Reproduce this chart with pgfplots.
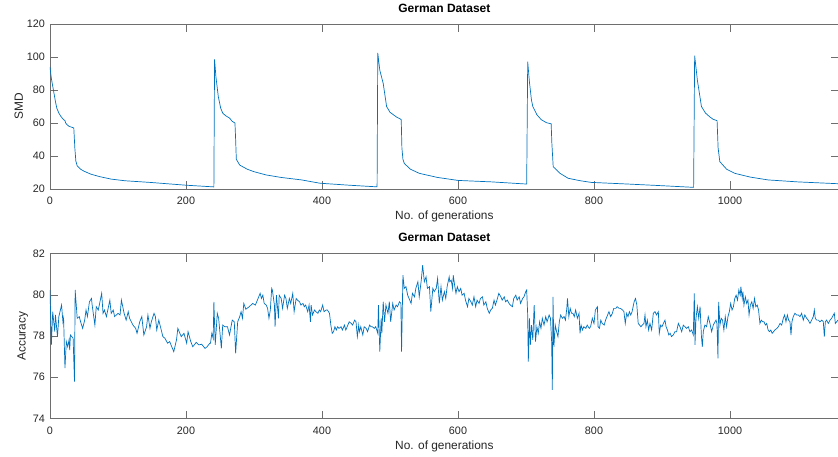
\documentclass[border=0pt]{standalone}
\usepackage{fontspec}
\setmainfont{Liberation Sans}
\usepackage{pgfplots}
\pgfplotsset{compat=1.18}
\definecolor{mblue}{RGB}{0,114,189}
\definecolor{axgray}{RGB}{110,110,110}
\definecolor{txtgray}{RGB}{38,38,38}
\pgfplotsset{
  mstyle/.style={
    scale only axis, width=788.8pt, height=165pt, anchor=south west,
    xmin=0, xmax=1160, xtick={0,200,...,1000},
    scaled ticks=false,
    /pgf/number format/1000 sep={},
    /pgf/number format/assume math mode=true,
    tick align=inside, major tick length=8pt,
    xtick pos=both, ytick pos=both,
    axis line style={axgray, line width=0.5pt},
    every tick/.style={axgray, line width=0.5pt},
    tick label style={font=\fontsize{10.8}{12}\selectfont, text=txtgray, inner sep=0pt},
    xticklabel style={yshift=-8pt},
    yticklabel style={xshift=-5pt},
    label style={font=\fontsize{11.9}{13}\selectfont, text=txtgray, inner sep=0pt},
    xlabel style={at={(axis description cs:0.5,0)}, anchor=north, yshift=-22pt},
    title style={at={(axis description cs:0.5,1)}, anchor=south, yshift=5.5pt,
      font=\bfseries\fontsize{12}{13}\selectfont, inner sep=0pt},
    xlabel={No. of generations},
    title={German Dataset},
  }
}
\begin{document}
\begin{tikzpicture}
\begin{axis}[mstyle, at={(50pt,267pt)},
  ymin=20, ymax=120, ytick={20,40,...,120},
  ylabel={SMD}, ylabel style={at={(axis description cs:-0.0339,0.5)}, anchor=south}]
\addplot[mblue, line width=0.7pt] coordinates {
(0,94) (2,87) (5,80) (8,73) (10,69) (13,66) (16,64) (20,62) (22,61.5) (23,60) (25,59) (28,58) (33,57.3) (35,57) (36.5,45) (38,37) (40,34) (45,32) (50,30.8) (60,29) (73,27.5) (90,26) (110,25) (147,24) (200,22.3) (240,21.3) (241,21.2)
(242,98.5) (244,88) (247.5,76) (251,69) (254,66) (258,64.5) (264,63) (268,61) (272,60) (273,50) (274,38) (279,34.5) (290,32) (300,30.5) (318,28.5) (340,27) (370,25.5) (397,23.5) (440,22.3) (481,21.3)
(482,102.5) (485,92) (490,84) (495,70) (500,66.5) (505,65) (510,63.5) (515,62.5) (516.5,62) (517.5,45) (519,38) (521,35.5) (530,32) (543,29.5) (570,27) (600,25.2) (650,24.3) (701,23)
(702.5,97.2) (705,85) (708,74) (710,70) (716,65) (722.5,62) (730,60.2) (737,59.5) (738,48) (740,33.5) (750,29.5) (762,26.5) (780,25) (796,24) (850,23) (900,22) (946.5,21)
(948,100.8) (952,86) (958,70) (964,66) (970,63.8) (975,62.3) (981,61.4) (982.5,45) (985,36.6) (995,32) (1007,29.5) (1030,27.2) (1056,25.5) (1100,24.3) (1159,23.2)
};
\end{axis}
\begin{axis}[mstyle, at={(50pt,37.5pt)},
  ymin=74, ymax=82, ytick={74,76,...,82},
  ylabel={Accuracy}, ylabel style={at={(axis description cs:-0.0276,0.5)}, anchor=south}]
\addplot[mblue, line width=0.7pt] coordinates {
(0,80.23) (2,77.57) (4,79.18) (7,78.21) (8,79.02) (11,77.97) (13,78.94) (17,79.50) (19,78.69) (20,78.86) (22,76.44) (24,77.73) (26,77.48) (28,77.81) (29,77.32) (30,78.05) (34,77.89) (36,75.79) (37,80.23) (40,78.86) (43,78.94) (45,78.69) (48,78.37) (51,78.77) (53,79.26) (55,78.94) (58,79.66) (61,79.82) (62,79.50) (66,78.53) (68,79.42) (71,79.26) (76,80.07) (78,79.10) (80,79.26) (83,78.94) (88,79.74) (90,79.10) (93,79.26) (95,78.94) (100,79.10) (103,79.02) (105,79.74) (109,79.10) (112,78.77) (115,79.18) (117,78.86) (122,78.53) (126,78.37) (128,78.13) (132,78.69) (135,78.94) (138,78.05) (142,78.45) (144,79.02) (147,78.37) (149,78.69) (153,79.10) (155,78.94) (157,78.29) (160,78.77) (163,78.37) (166,77.97) (169,77.89) (173,77.65) (176,77.73) (182,77.24) (186,77.81) (188,78.37) (191,78.13) (193,77.97) (197,78.13) (201,77.65) (203,78.21) (207,77.73) (210,77.48) (215,77.69) (219,77.57) (223,77.60) (228,77.40) (231,77.48) (235,77.65) (236,77.65) (238,78.13) (240,77.89) (241,79.66) (243,77.57) (246,79.10) (248,78.86) (252,77.40) (254,78.53) (257,78.45) (261,78.45) (264,78.05) (268,78.77) (271,78.69) (273,77.16) (276,78.69) (279,78.94) (281,79.18) (283,78.86) (285,79.58) (288,79.30)
(293,79.42) (298,79.58) (302,79.50) (305,79.74) (309,80.07) (311,79.82) (313,79.98) (315,79.58) (318,79.50) (320,79.34) (322,78.86) (324,79.26) (326,80.31) (327,80.23) (330,79.50) (331,78.45) (333,79.98) (336,78.86) (337,79.98) (340,79.82) (342,79.34) (345,79.98) (347,79.82) (349,79.34) (352,79.82) (354,79.58) (357,80.07) (359,79.18) (362,79.82) (364,79.74) (367,79.66) (369,79.50) (372,79.58) (374,79.42) (376,79.50) (379,79.18) (381,79.50) (383,78.69) (384,79.50) (386,79.02) (389,79.26) (391,79.18) (394,79.10) (396,79.26) (398,79.18) (401,79.50) (403,79.18) (406,79.26) (408,79.26) (411,79.10) (413,78.53) (415,78.13) (417,78.21) (419,78.45) (421,78.29) (423,78.45) (425,78.37) (428,78.45) (430,78.29) (433,78.53) (435,78.29) (438,78.53) (440,78.69) (443,78.61) (445,78.53) (448,78.77) (450,78.69) (452,77.97) (454,78.53) (455,78.21) (457,78.45) (460,78.05) (462,78.45) (465,78.37) (467,78.21) (470,78.53) (472,78.45) (474,78.45) (477,78.37) (479,78.45) (482,78.13) (483,79.50) (485,77.24) (487,78.86) (488,78.13) (490,79.66) (492,78.69) (494,79.50) (497,79.10) (499,79.66) (501,78.69) (504,79.58) (506,79.26) (509,79.50) (511,79.42) (514,79.66) (516,79.58) (517,77.24) (519,80.95) (521,80.31) (523.5,80.39) (526,79.98) (528,79.82) (531,79.58) (533,80.07) (536,79.90) (538,80.31) (541,80.63) (543,79.90) (546,80.71) (548,81.44) (550.5,80.63) (553,80.87) (555,80.31) (558,80.39) (560,79.18) (563,80.31) (565,80.15) (568,80.31) (570,80.79) (572.5,79.58) (575,80.39) (577,79.74) (580,80.15) (582,79.82)
(584,80.39) (587,80.87) (588,80.63) (590,80.71) (592,80.31) (593,80.95) (595,80.47) (597,80.07) (599,80.39) (601.5,80.15) (604,80.31) (606,79.98) (609,80.07) (611,79.74) (614,79.42) (616,79.82) (619,79.66) (621,79.50) (623.5,79.90) (626,79.42) (628,79.74) (631,79.58) (633,79.82) (636,79.90) (638,79.50) (641,79.66) (643,79.34) (646,79.10) (648,79.26) (650.5,79.34) (653,79.74) (655,79.50) (658,79.82) (660,80.07) (663,79.90) (665,79.74) (668,79.90) (670,79.66) (672.5,79.74) (675,79.58) (677,79.50) (680,79.42) (682,79.82) (685,79.98) (687,79.74) (690,79.90) (692,79.58) (695,79.82) (697,79.90) (699.5,80.15) (701,80.23) (702.4,79.10) (703.4,76.76) (705,78.86) (706.4,77.57) (708,78.53) (710,77.81) (712,79.50) (714,77.73) (716,78.45) (718,78.13) (720,78.69) (722,78.37) (724,78.86) (726.5,78.53) (729,78.94) (731,78.69) (734,79.02) (736,78.86) (737.7,77.73) (738.7,75.39) (739.7,79.90) (741,77.48) (743,78.53) (745,78.21) (747,77.97) (749,78.69) (751,79.02) (753.4,78.86) (756,78.94) (758,78.77) (760,79.34) (761,79.82) (763,78.94) (765,79.34) (767,79.10) (769,79.10) (771,78.94) (773,79.26) (775.5,78.86) (778,79.10) (779.4,78.13) (781,78.53) (783,78.29) (785,78.45) (788,78.37) (790,78.53) (793,78.37) (795,78.45) (797.5,78.86) (800,78.61) (802,79.26) (805,79.42) (806,78.45) (808,78.37) (810,78.77) (812,78.61) (815,78.53) (817,78.77) (820,79.02) (822,79.18) (824.5,78.94) (827,79.10) (829,79.34) (832,79.34) (834,79.42) (837,79.34) (839,79.34) (842,79.26) (844,79.18) (846,78.61) (848,79.10) (850,78.94) (852,79.18) (854,79.02) (856,79.18) (859,79.66) (861,79.82) (863,79.50) (865,78.61) (867,78.53) (869,78.45) (871,78.53) (873.5,78.61)
(875,79.02) (876.4,78.45) (878.4,78.77) (880.3,78.29) (882.3,78.61) (884.8,78.29) (887.2,79.10) (889.7,79.18) (892,79.02) (894.6,79.18) (896,78.13) (898,78.53) (900,78.45) (902,78.61) (904.4,78.77) (906,78.45) (908,78.29) (910,78.05) (912,78.13) (914,77.97) (916.6,78.05) (919,78.21) (921.5,78.21) (924,78.61) (926.4,78.45) (929,78.21) (931.3,78.53) (933.8,78.45) (936,78.37) (938.7,78.45) (941,78.21) (943.6,78.29) (946,78.05) (947.5,80.07) (948.5,77.57) (950,78.86) (952,79.42) (954,78.86) (956,79.42) (958,77.97) (959.3,77.48) (960.7,78.21) (963,78.53) (965.6,78.45) (968,78.94) (970.5,78.61) (973,78.21) (975.4,78.53) (978,78.69) (979.4,78.77) (980.8,78.61) (982.3,76.92) (983.3,79.66) (985.2,78.53) (987,78.86) (989,78.77) (991,78.29) (993,78.94) (995,78.45) (997,78.94) (999,79.18) (1001,79.58) (1003,79.26) (1005,79.42) (1007,79.82) (1009,79.98) (1011,79.74) (1013,80.23) (1015,79.98) (1016,80.39) (1018,79.82) (1019,80.15) (1020.5,79.50) (1022.5,79.90) (1024.5,79.58) (1026.4,79.74) (1028,79.02) (1030,79.50) (1032,79.66) (1034,79.34) (1036,79.82) (1038,79.42) (1040,79.50) (1042,79.26) (1044,78.61) (1046,78.77) (1048,78.69) (1050,78.69) (1052,78.53) (1054,78.61) (1056,78.29) (1058,78.21) (1060,78.29) (1062,78.13) (1064,78.21) (1066,78.29) (1069,78.37) (1071,78.45) (1073.5,78.61) (1076,78.53) (1078.4,78.86) (1080.3,79.02) (1082.3,78.69) (1084.3,79.02) (1086.2,78.77) (1088.2,78.69) (1089.7,78.05) (1091.1,78.69) (1093,78.94) (1095.5,79.10) (1098,79.02) (1100.4,79.02) (1103,78.94) (1105.3,79.10) (1107.8,78.77) (1110,79.02) (1112.7,78.86) (1115,78.77) (1117.6,78.61) (1120,78.77) (1122.5,78.94) (1124,79.26) (1125.4,78.86) (1127.4,78.77) (1130,78.77) (1132.3,78.69) (1134.8,78.77) (1137.2,78.69) (1138.7,77.97) (1140.2,78.69) (1142,78.77) (1144.6,78.61) (1147,78.77) (1149.5,78.86) (1152,79.02) (1153.4,79.10) (1154.9,78.61) (1156.8,78.69) (1158.8,78.77)
};
\end{axis}
\pgfresetboundingbox
\path (0,0) rectangle (838pt,456pt);
\end{tikzpicture}
\end{document}
